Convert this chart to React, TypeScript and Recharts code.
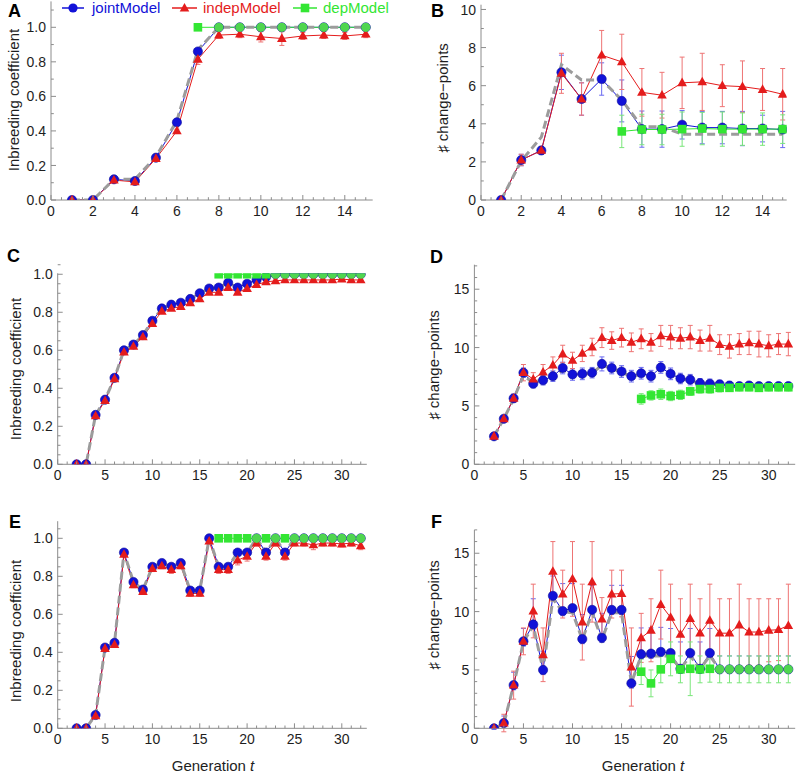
import React from "react";
import { LineChart, Line, XAxis, YAxis, ErrorBar } from "recharts";

const BLUE = "#1212d8";
const RED = "#e41c1c";
const GREEN = "#33e633";
const GRAY = "#9c9c9c";
const AXIS = "#8c8c8c";
const INK = "#1e1e1e";
const FONT = "'Liberation Sans', Arial, sans-serif";

const legendItems = ["jointModel", "indepModel", "depModel"];
const inbreedingTitle = "Inbreeding coefficient";
const changeTitle = "\u266F change\u2212points";
const genTitle = "Generation ";

// ---- panel A: inbreeding, short run ----
const genA = [1, 2, 3, 4, 5, 6, 7, 8, 9, 10, 11, 12, 13, 14, 15];
const jointA = [0, 0, 0.12, 0.11, 0.245, 0.45, 0.86, 1, 1, 1, 1, 1, 1, 1, 1];
const indepA = [0, 0, 0.115, 0.105, 0.24, 0.4, 0.815, 0.955, 0.96, 0.945, 0.935, 0.95, 0.955, 0.95, 0.96];
const indepErrA = [0, 0, 0.01, 0.01, 0.01, 0.01, 0.03, 0.02, 0.02, 0.03, 0.04, 0.02, 0.02, 0.02, 0.02];
const depA = [null, null, null, null, null, null, 1, 1, 1, 1, 1, 1, 1, 1, 1];
const truthA = [0, 0, 0.12, 0.12, 0.25, 0.46, 0.87, 1, 1, 1, 1, 1, 1, 1, 1];

// ---- panel B: change-points, short run ----
const genB = [1, 2, 3, 4, 5, 6, 7, 8, 9, 10, 11, 12, 13, 14, 15];
const jointB = [0, 2.1, 2.6, 6.7, 5.3, 6.35, 5.2, 3.72, 3.72, 3.95, 3.8, 3.8, 3.75, 3.75, 3.7];
const jointErrB = [0, 0.3, 0.2, 0.9, 0.85, 0.85, 1.1, 0.95, 0.95, 0.75, 0.85, 0.85, 0.9, 0.7, 0.95];
const indepB = [0, 2.1, 2.6, 6.65, 5.3, 7.6, 7.25, 5.65, 5.5, 6.15, 6.2, 6.0, 5.95, 5.8, 5.55];
const indepErrB = [0, 0.3, 0.2, 1.05, 0.85, 1.3, 1.45, 1.25, 1.2, 1.35, 1.5, 1.1, 1.35, 1.1, 1.35];
const depB = [null, null, null, null, null, null, 3.6, 3.7, 3.7, 3.72, 3.75, 3.72, 3.72, 3.72, 3.72];
const depErrB = [null, null, null, null, null, null, 0.85, 0.8, 0.8, 0.9, 0.85, 0.9, 0.85, 0.85, 0.75];
const truthB = [0, 2.05, 3.3, 7.1, 6.3, 6.3, 5.25, 3.85, 3.85, 3.45, 3.45, 3.45, 3.45, 3.45, 3.45];

// ---- panel C ----
const genC = [2, 3, 4, 5, 6, 7, 8, 9, 10, 11, 12, 13, 14, 15, 16, 17, 18, 19, 20, 21, 22, 23, 24, 25, 26, 27, 28, 29, 30, 31, 32];
const jointC = [0, 0, 0.26, 0.34, 0.455, 0.6, 0.63, 0.68, 0.755, 0.82, 0.84, 0.85, 0.87, 0.9, 0.925, 0.93, 0.955, 0.93, 0.95, 0.97, 0.985, 1, 1, 1, 1, 1, 1, 1, 1, 1, 1];
const indepC = [0, 0, 0.255, 0.335, 0.45, 0.59, 0.62, 0.67, 0.74, 0.805, 0.82, 0.83, 0.85, 0.87, 0.905, 0.905, 0.93, 0.905, 0.925, 0.945, 0.96, 0.965, 0.97, 0.97, 0.97, 0.97, 0.97, 0.97, 0.975, 0.97, 0.97];
const depC = [null, null, null, null, null, null, null, null, null, null, null, null, null, null, null, 1, 1, 1, 1, 1, 1, 1, 1, 1, 1, 1, 1, 1, 1, 1, 1];
const truthC = [0, 0, 0.26, 0.34, 0.455, 0.6, 0.63, 0.68, 0.755, 0.82, 0.84, 0.85, 0.87, 0.9, 0.925, 0.93, 0.955, 0.93, 0.95, 0.97, 0.985, 1, 1, 1, 1, 1, 1, 1, 1, 1, 1];

// ---- panel D ----
const genD = genC;
const jointD = [2.4, 3.9, 5.65, 7.85, 6.9, 7.2, 7.55, 8.25, 7.7, 7.75, 7.85, 8.6, 8.25, 7.95, 7.55, 7.8, 7.55, 8.3, 7.75, 7.35, 7.25, 6.95, 6.9, 6.85, 6.75, 6.7, 6.75, 6.7, 6.7, 6.7, 6.7];
const jointErrD = [0.1, 0.15, 0.35, 0.4, 0.35, 0.4, 0.45, 0.5, 0.5, 0.5, 0.45, 0.6, 0.5, 0.5, 0.5, 0.5, 0.5, 0.5, 0.5, 0.45, 0.45, 0.4, 0.4, 0.35, 0.35, 0.3, 0.3, 0.3, 0.3, 0.3, 0.3];
const indepD = [2.4, 3.9, 5.65, 7.85, 7.3, 7.9, 8.5, 9.45, 8.9, 9.5, 10.05, 10.85, 10.6, 10.85, 10.45, 10.75, 10.45, 11.0, 10.9, 10.8, 10.9, 10.6, 10.8, 10.25, 10.1, 10.3, 10.4, 10.3, 10.15, 10.3, 10.3];
const indepErrD = [0.1, 0.15, 0.35, 0.7, 0.55, 0.65, 0.7, 0.75, 0.7, 0.7, 0.75, 0.85, 0.75, 0.8, 0.8, 0.85, 0.75, 0.9, 1.0, 0.9, 1.0, 0.9, 1.1, 0.85, 1.0, 0.9, 1.0, 1.1, 0.95, 0.9, 1.0];
const depD = [null, null, null, null, null, null, null, null, null, null, null, null, null, null, null, 5.6, 5.9, 6.0, 5.85, 5.95, 6.25, 6.45, 6.45, 6.55, 6.55, 6.6, 6.6, 6.55, 6.6, 6.6, 6.6];
const depErrD = [null, null, null, null, null, null, null, null, null, null, null, null, null, null, null, 0.45, 0.4, 0.45, 0.4, 0.4, 0.35, 0.35, 0.35, 0.35, 0.3, 0.3, 0.3, 0.3, 0.3, 0.3, 0.3];
const truthD = [2.4, 3.9, 5.6, 7.6, 7.0, 7.3, 7.5, 8.1, 7.7, 7.7, 7.8, 8.5, 8.2, 7.9, 7.5, 7.7, 7.5, 8.2, 7.7, 7.3, 7.2, 6.9, 6.9, 6.85, 6.75, 6.7, 6.75, 6.7, 6.7, 6.7, 6.7];

// ---- panel E ----
const genE = genC;
const jointE = [0, 0, 0.07, 0.425, 0.45, 0.925, 0.77, 0.73, 0.85, 0.87, 0.85, 0.87, 0.725, 0.725, 1.0, 0.85, 0.85, 0.925, 0.925, 1.0, 0.925, 1.0, 0.925, 1, 1, 1, 1, 1, 1, 1, 1];
const indepE = [0, 0, 0.065, 0.42, 0.44, 0.915, 0.755, 0.72, 0.84, 0.855, 0.835, 0.855, 0.71, 0.71, 0.985, 0.835, 0.835, 0.885, 0.905, 0.975, 0.905, 0.975, 0.905, 0.975, 0.975, 0.965, 0.975, 0.975, 0.97, 0.975, 0.96];
const indepErrE = [0, 0, 0.01, 0.01, 0.01, 0.01, 0.015, 0.01, 0.015, 0.015, 0.02, 0.015, 0.015, 0.015, 0.01, 0.02, 0.02, 0.025, 0.025, 0.015, 0.02, 0.015, 0.02, 0.015, 0.015, 0.025, 0.015, 0.015, 0.015, 0.015, 0.02];
const depE = [null, null, null, null, null, null, null, null, null, null, null, null, null, null, null, 1, 1, 1, 1, 1, 1, 1, 1, 1, 1, 1, 1, 1, 1, 1, 1];
const truthE = [0, 0, 0.07, 0.425, 0.45, 0.925, 0.77, 0.73, 0.85, 0.87, 0.85, 0.87, 0.725, 0.725, 1.0, 0.85, 0.85, 0.925, 0.925, 1.0, 0.925, 1.0, 0.925, 1, 1, 1, 1, 1, 1, 1, 1];

// ---- panel F ----
const genF = genC;
const jointF = [0, 0.45, 3.7, 7.45, 8.9, 5.0, 11.35, 10.05, 10.3, 7.65, 10.15, 7.75, 10.15, 10.15, 3.85, 6.35, 6.4, 6.55, 6.45, 5.1, 6.45, 5.1, 6.45, 5.05, 5.05, 5.05, 5.05, 5.05, 5.05, 5.05, 5.05];
const jointErrLowF = [0.1, 0.3, 0.4, 0.4, 0.4, 0.4, 0.4, 0.4, 0.4, 0.4, 0.4, 0.4, 0.4, 0.4, 0.4, 0.4, 0.4, 0.4, 0.4, 0.4, 0.4, 0.4, 0.4, 0.3, 0.3, 0.3, 0.3, 0.3, 0.3, 0.3, 0.3];
const jointErrF = [0.1, 0.6, 1.1, 1.1, 2.2, 1.6, 1.7, 2.35, 2.1, 2.1, 2.1, 2.1, 2.1, 2.1, 2.3, 2.25, 2.2, 2.1, 2.1, 2.3, 2.1, 2.3, 2.1, 1.15, 1.15, 1.15, 1.15, 1.15, 1.15, 1.15, 1.15];
const indepF = [0, 0.45, 3.7, 7.45, 10.05, 6.3, 13.45, 11.5, 12.8, 9.1, 12.55, 9.35, 11.5, 11.55, 5.25, 7.75, 8.4, 10.6, 9.5, 8.05, 9.4, 8.15, 9.25, 8.15, 8.15, 8.85, 8.25, 8.25, 8.4, 8.45, 8.8];
const indepErrF = [0, 0.75, 1.2, 1.15, 2.3, 2.3, 2.55, 2.05, 3.2, 3.25, 3.45, 1.85, 2.05, 2.0, 3.35, 2.1, 2.7, 2.95, 2.85, 3.05, 2.95, 2.95, 3.1, 2.95, 2.95, 3.5, 2.85, 2.85, 2.7, 2.65, 3.55];
const depF = [null, null, null, null, null, null, null, null, null, null, null, null, null, null, null, 4.85, 3.85, 5.05, 5.95, 5.05, 5.1, 5.05, 5.1, 5.05, 5.05, 5.05, 5.05, 5.05, 5.05, 5.05, 5.05];
const depErrF = [null, null, null, null, null, null, null, null, null, null, null, null, null, null, null, 1.1, 1.15, 1.15, 1.45, 1.15, 2.3, 1.15, 1.15, 1.15, 1.15, 1.15, 1.15, 1.15, 1.15, 1.15, 1.15];
const truthF = [0, 0.4, 3.7, 7.4, 8.8, 5.0, 11.1, 10.0, 9.9, 7.6, 9.9, 7.6, 9.9, 9.9, 3.9, 6.2, 6.2, 6.2, 6.2, 5.1, 6.2, 5.1, 6.2, 5.05, 5.05, 5.05, 5.05, 5.05, 5.05, 5.05, 5.05];

// ---- axis ticks (majors are labelled, the rest are minor marks) ----
const xMajorShort = [0, 2, 4, 6, 8, 10, 12, 14];
const xTicksShort = [0, 0.5, 1, 1.5, 2, 2.5, 3, 3.5, 4, 4.5, 5, 5.5, 6, 6.5, 7, 7.5, 8, 8.5, 9, 9.5, 10, 10.5, 11, 11.5, 12, 12.5, 13, 13.5, 14, 14.5, 15];
const xMajorLong = [0, 5, 10, 15, 20, 25, 30];
const xTicksLong = [0, 1, 2, 3, 4, 5, 6, 7, 8, 9, 10, 11, 12, 13, 14, 15, 16, 17, 18, 19, 20, 21, 22, 23, 24, 25, 26, 27, 28, 29, 30, 31, 32];
const yMajorInb = [0, 0.2, 0.4, 0.6, 0.8, 1.0];
const yTicksInbA = [0, 0.1, 0.2, 0.3, 0.4, 0.5, 0.6, 0.7, 0.8, 0.9, 1.0, 1.1];
const yTicksInb = [0, 0.05, 0.1, 0.15, 0.2, 0.25, 0.3, 0.35, 0.4, 0.45, 0.5, 0.55, 0.6, 0.65, 0.7, 0.75, 0.8, 0.85, 0.9, 0.95, 1.0, 1.05];
const yMajorCpB = [0, 2, 4, 6, 8, 10];
const yTicksCpB = [0, 1, 2, 3, 4, 5, 6, 7, 8, 9, 10];
const yMajorCp = [0, 5, 10, 15];
const yTicksCp = [0, 1, 2, 3, 4, 5, 6, 7, 8, 9, 10, 11, 12, 13, 14, 15, 16, 17];

type Val = number | null;

function buildRows(
  gen: number[],
  joint: Val[],
  indep: Val[],
  dep: Val[],
  truth: Val[],
  jointErr?: Val[],
  indepErr?: Val[],
  depErr?: Val[],
  jointErrLow?: Val[]
) {
  return gen.map((t, i) => ({
    t,
    joint: joint[i],
    indep: indep[i],
    dep: dep[i],
    truth: truth[i],
    jointErr: jointErr ? (jointErrLow ? [jointErrLow[i], jointErr[i]] : jointErr[i]) : null,
    indepErr: indepErr ? indepErr[i] : null,
    depErr: depErr ? depErr[i] : null,
  }));
}

const ok = (v: any) => typeof v === "number" && Number.isFinite(v);

function circleDot(props: any) {
  const { cx, cy, index, value } = props;
  if (!ok(cx) || !ok(cy) || value == null) return <g key={`c-${index}`} />;
  return <circle key={`c-${index}`} cx={cx} cy={cy} r={4.6} fill={BLUE} stroke="#0a0a9a" strokeWidth={0.6} />;
}

function triangleDot(props: any) {
  const { cx, cy, index, value } = props;
  if (!ok(cx) || !ok(cy) || value == null) return <g key={`t-${index}`} />;
  const pts = `${cx},${cy - 5.2} ${cx - 4.8},${cy + 3.4} ${cx + 4.8},${cy + 3.4}`;
  return <polygon key={`t-${index}`} points={pts} fill={RED} />;
}

// dep marker: where it sits on the joint estimate it shows as a green disc
function squareDot(props: any) {
  const { cx, cy, index, value, payload } = props;
  if (!ok(cx) || !ok(cy) || value == null) return <g key={`s-${index}`} />;
  if (payload && payload.joint != null && Math.abs(payload.joint - value) < 1e-6) {
    return <circle key={`s-${index}`} cx={cx} cy={cy} r={4.6} fill="#4fd64f" />;
  }
  return <rect key={`s-${index}`} x={cx - 4.3} y={cy - 4.3} width={8.6} height={8.6} fill={GREEN} />;
}

function makeTick(axis: "x" | "y", majors: number[], fmt: (v: number) => string) {
  return (props: any) => {
    const { x, y, payload } = props;
    const v = payload.value as number;
    const major = majors.some((m) => Math.abs(m - v) < 1e-6);
    const len = major ? 5 : 2.8;
    if (axis === "x") {
      return (
        <g>
          <line x1={x} y1={y} x2={x} y2={y - len} stroke={AXIS} strokeWidth={1} />
          {major && (
            <text x={x} y={y + 16} textAnchor="middle" fontSize={14} fontFamily={FONT} fill={INK}>
              {fmt(v)}
            </text>
          )}
        </g>
      );
    }
    return (
      <g>
        <line x1={x} y1={y} x2={x + len} y2={y} stroke={AXIS} strokeWidth={1} />
        {major && (
          <text x={x - 5} y={y} dy="0.36em" textAnchor="end" fontSize={14} fontFamily={FONT} fill={INK}>
            {fmt(v)}
          </text>
        )}
      </g>
    );
  };
}

const fmtInt = (v: number) => String(v);
const fmtDec = (v: number) => v.toFixed(1);

interface PanelProps {
  left: number;
  top: number;
  width: number;
  height: number;
  yAxisWidth: number;
  marginTop: number;
  marginRight: number;
  xAxisHeight: number;
  xDomain: [number, number];
  yDomain: [number, number];
  xTicks: number[];
  xMajor: number[];
  yTicks: number[];
  yMajor: number[];
  yFmt: (v: number) => string;
  rows: ReturnType<typeof buildRows>;
  showJointErr?: boolean;
  showIndepErr?: boolean;
  showDepErr?: boolean;
}

function Panel(p: PanelProps) {
  return (
    <div style={{ position: "absolute", left: p.left, top: p.top, width: p.width, height: p.height }}>
      <LineChart
        width={p.width}
        height={p.height}
        data={p.rows}
        margin={{ top: p.marginTop, right: p.marginRight, bottom: 0, left: 0 }}
      >
        <XAxis
          type="number"
          dataKey="t"
          domain={p.xDomain}
          ticks={p.xTicks}
          interval={0}
          allowDataOverflow
          tickSize={0}
          tickMargin={0}
          height={p.xAxisHeight}
          stroke={AXIS}
          tick={makeTick("x", p.xMajor, fmtInt)}
        />
        <YAxis
          type="number"
          domain={p.yDomain}
          ticks={p.yTicks}
          interval={0}
          allowDataOverflow
          tickSize={0}
          tickMargin={0}
          width={p.yAxisWidth}
          stroke={AXIS}
          tick={makeTick("y", p.yMajor, p.yFmt)}
        />
        <Line
          dataKey="joint"
          type="linear"
          stroke={BLUE}
          strokeWidth={1}
          dot={circleDot}
          activeDot={false}
          isAnimationActive={false}
        >
          {p.showJointErr && (
            <ErrorBar dataKey="jointErr" direction="y" width={2.5} stroke="#6a6af0" strokeWidth={1} />
          )}
        </Line>
        <Line
          dataKey="indep"
          type="linear"
          stroke={RED}
          strokeWidth={1}
          dot={triangleDot}
          activeDot={false}
          isAnimationActive={false}
        >
          {p.showIndepErr && (
            <ErrorBar dataKey="indepErr" direction="y" width={2.5} stroke="#ee7474" strokeWidth={1} />
          )}
        </Line>
        <Line
          dataKey="dep"
          type="linear"
          stroke={GREEN}
          strokeWidth={1}
          dot={squareDot}
          activeDot={false}
          isAnimationActive={false}
        >
          {p.showDepErr && (
            <ErrorBar dataKey="depErr" direction="y" width={2.5} stroke="#7ae67a" strokeWidth={1} />
          )}
        </Line>
        <Line
          dataKey="truth"
          type="linear"
          stroke={GRAY}
          strokeWidth={3}
          strokeDasharray="8 4"
          dot={false}
          activeDot={false}
          isAnimationActive={false}
        />
      </LineChart>
    </div>
  );
}

const rowsA = buildRows(genA, jointA, indepA, depA, truthA, undefined, indepErrA);
const rowsB = buildRows(genB, jointB, indepB, depB, truthB, jointErrB, indepErrB, depErrB);
const rowsC = buildRows(genC, jointC, indepC, depC, truthC);
const rowsD = buildRows(genD, jointD, indepD, depD, truthD, jointErrD, indepErrD, depErrD);
const rowsE = buildRows(genE, jointE, indepE, depE, truthE, undefined, indepErrE);
const rowsF = buildRows(genF, jointF, indepF, depF, truthF, jointErrF, indepErrF, depErrF, jointErrLowF);

function Overlay() {
  const letter = (s: string, x: number, y: number) => (
    <text x={x} y={y} fontSize={18} fontWeight="bold" fontFamily={FONT} fill="#000">
      {s}
    </text>
  );
  const yTitle = (s: string, x: number, y: number) => (
    <text
      x={x}
      y={y}
      transform={`rotate(-90 ${x} ${y})`}
      textAnchor="middle"
      dominantBaseline="central"
      fontSize={15}
      fontFamily={FONT}
      fill={INK}
    >
      {s}
    </text>
  );
  const xTitle = (x: number, y: number) => (
    <text x={x} y={y} textAnchor="middle" fontSize={15} fontFamily={FONT} fill={INK}>
      {genTitle}
      <tspan fontStyle="italic">t</tspan>
    </text>
  );
  return (
    <svg
      width={797}
      height={774}
      style={{ position: "absolute", left: 0, top: 0, pointerEvents: "none" }}
    >
      {letter("A", 8, 17)}
      {letter("B", 431, 17)}
      {letter("C", 7, 262)}
      {letter("D", 430, 263)}
      {letter("E", 9, 528)}
      {letter("F", 431, 528)}

      {yTitle(inbreedingTitle, 13, 100)}
      {yTitle(changeTitle, 442, 98)}
      {yTitle(inbreedingTitle, 15, 369)}
      {yTitle(changeTitle, 433, 365)}
      {yTitle(inbreedingTitle, 15, 631)}
      {yTitle(changeTitle, 433, 615)}

      {xTitle(213, 771)}
      {xTitle(643, 771)}

      {/* legend */}
      <line x1={62} y1={8} x2={84} y2={8} stroke={BLUE} strokeWidth={1.5} />
      <circle cx={73} cy={8} r={4.6} fill={BLUE} />
      <text x={92} y={13} fontSize={15} fontFamily={FONT} fill={BLUE}>
        {legendItems[0]}
      </text>
      <line x1={172} y1={8} x2={197} y2={8} stroke={RED} strokeWidth={1.5} />
      <polygon points="184.5,3 179.7,11.6 189.3,11.6" fill={RED} />
      <text x={203} y={13} fontSize={15} fontFamily={FONT} fill={RED}>
        {legendItems[1]}
      </text>
      <line x1={293} y1={8} x2={317} y2={8} stroke={GREEN} strokeWidth={1.5} />
      <rect x={300.7} y={3.7} width={8.6} height={8.6} fill={GREEN} />
      <text x={323} y={13} fontSize={15} fontFamily={FONT} fill={GREEN}>
        {legendItems[2]}
      </text>
    </svg>
  );
}

export default function App() {
  return (
    <div style={{ position: "absolute", left: 0, top: 0, width: 797, height: 774, background: "#fff", fontFamily: FONT }}>
      <Panel
        left={0}
        top={0}
        width={380}
        height={230}
        yAxisWidth={51}
        marginTop={1.4}
        marginRight={7.3}
        xAxisHeight={30}
        xDomain={[0, 15.33]}
        yDomain={[0, 1.15]}
        xTicks={xTicksShort}
        xMajor={xMajorShort}
        yTicks={yTicksInbA}
        yMajor={yMajorInb}
        yFmt={fmtDec}
        rows={rowsA}
        showIndepErr
      />
      <Panel
        left={400}
        top={0}
        width={397}
        height={230}
        yAxisWidth={81}
        marginTop={4.7}
        marginRight={10.3}
        xAxisHeight={30}
        xDomain={[0, 15.2]}
        yDomain={[0, 10.25]}
        xTicks={xTicksShort}
        xMajor={xMajorShort}
        yTicks={yTicksCpB}
        yMajor={yMajorCpB}
        yFmt={fmtInt}
        rows={rowsB}
        showJointErr
        showIndepErr
        showDepErr
      />
      <Panel
        left={0}
        top={250}
        width={380}
        height={240}
        yAxisWidth={57.7}
        marginTop={23.3}
        marginRight={13.2}
        xAxisHeight={25.7}
        xDomain={[0, 32.64]}
        yDomain={[0, 1.005]}
        xTicks={xTicksLong}
        xMajor={xMajorLong}
        yTicks={yTicksInb}
        yMajor={yMajorInb}
        yFmt={fmtDec}
        rows={rowsC}
      />
      <Panel
        left={400}
        top={250}
        width={397}
        height={240}
        yAxisWidth={74.4}
        marginTop={14.7}
        marginRight={1.8}
        xAxisHeight={25.7}
        xDomain={[0, 32.7]}
        yDomain={[0, 17.1]}
        xTicks={xTicksLong}
        xMajor={xMajorLong}
        yTicks={yTicksCp}
        yMajor={yMajorCp}
        yFmt={fmtInt}
        rows={rowsD}
        showJointErr
        showIndepErr
        showDepErr
      />
      <Panel
        left={0}
        top={510}
        width={380}
        height={264}
        yAxisWidth={57.7}
        marginTop={11.2}
        marginRight={13.2}
        xAxisHeight={45.7}
        xDomain={[0, 32.64]}
        yDomain={[0, 1.09]}
        xTicks={xTicksLong}
        xMajor={xMajorLong}
        yTicks={yTicksInb}
        yMajor={yMajorInb}
        yFmt={fmtDec}
        rows={rowsE}
        showIndepErr
      />
      <Panel
        left={400}
        top={510}
        width={397}
        height={264}
        yAxisWidth={74.4}
        marginTop={19.9}
        marginRight={1.8}
        xAxisHeight={45.7}
        xDomain={[0, 32.7]}
        yDomain={[0, 17]}
        xTicks={xTicksLong}
        xMajor={xMajorLong}
        yTicks={yTicksCp}
        yMajor={yMajorCp}
        yFmt={fmtInt}
        rows={rowsF}
        showJointErr
        showIndepErr
        showDepErr
      />
      <Overlay />
    </div>
  );
}
